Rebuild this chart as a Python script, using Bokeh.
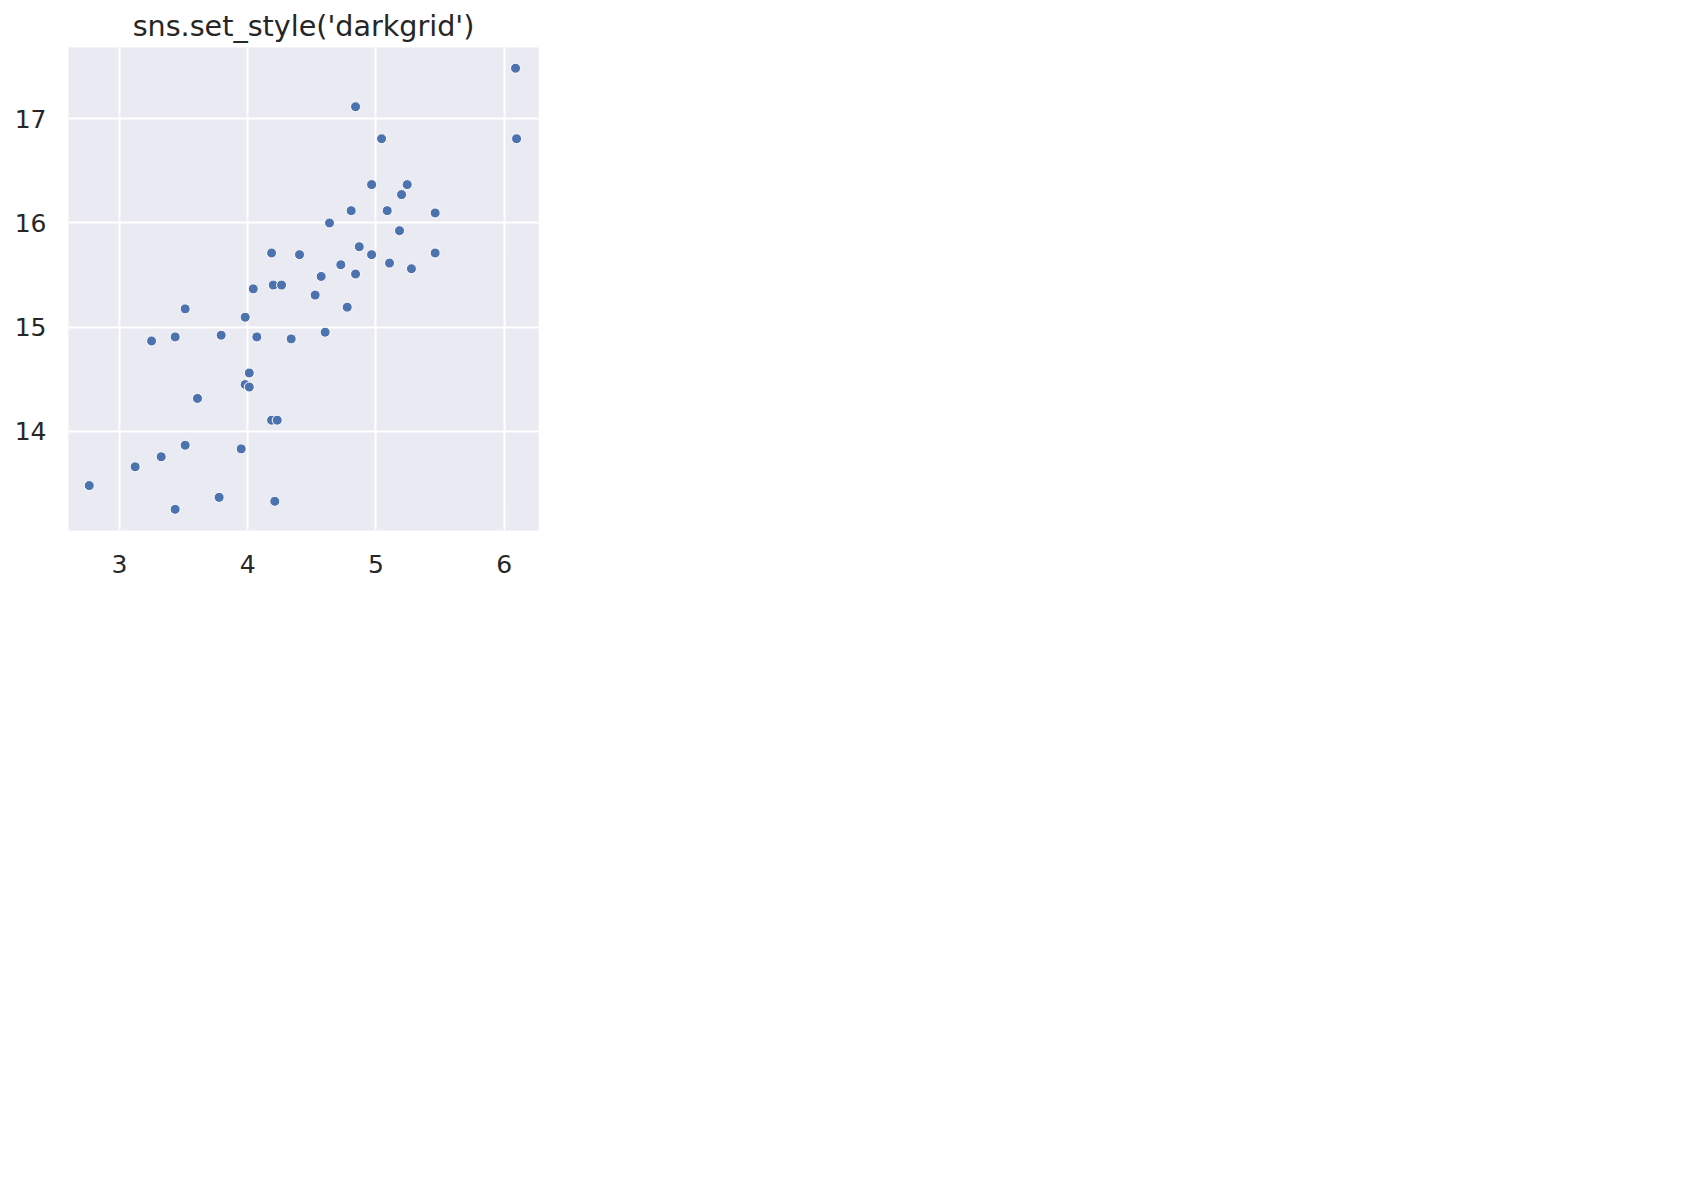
from bokeh.plotting import figure
from bokeh.models import FixedTicker, ColumnDataSource
from bokeh.embed import file_html
from bokeh.resources import INLINE

# Data
x_vals = [6.089, 4.841, 5.044, 6.097, 4.966, 5.244, 5.200, 4.807, 5.088, 5.462,
          4.638, 5.184, 4.186, 4.404, 4.870, 4.966, 5.462, 4.726, 5.106, 5.277,
          4.573, 4.841,
          4.043, 4.199, 4.264, 4.526, 4.776, 3.512, 3.980, 3.250, 3.434, 3.793,
          4.071, 4.339, 4.604, 4.012, 3.980, 4.012, 3.608, 4.186, 4.230, 3.512,
          3.949, 3.325, 3.122, 2.764, 3.777, 4.211, 3.434]
y_vals = [17.484, 17.115, 16.808, 16.808, 16.368, 16.368, 16.272, 16.118, 16.118, 16.096,
          16.000, 15.926, 15.712, 15.696, 15.772, 15.696, 15.712, 15.599, 15.615, 15.561,
          15.487, 15.510,
          15.368, 15.404, 15.404, 15.308, 15.192, 15.176, 15.096, 14.868, 14.907, 14.923,
          14.907, 14.888, 14.952, 14.561, 14.450, 14.426, 14.317, 14.108, 14.108, 13.868,
          13.833, 13.757, 13.661, 13.481, 13.368, 13.330, 13.253]
x_ticks = [3, 4, 5, 6]
y_ticks = [14, 15, 16, 17]
title_text = "sns.set_style('darkgrid')"

FONT = "DejaVu Sans"
TEXT = "#262626"

p = figure(frame_width=470, frame_height=483,
           x_range=(2.602, 6.268), y_range=(13.05, 17.683),
           output_backend="svg", toolbar_location=None,
           title=title_text, min_border_left=68, min_border_right=20,
           min_border_top=47, min_border_bottom=80)

p.title.align = "center"
p.title.text_font = FONT
p.title.text_font_size = "28.6px"
p.title.text_font_style = "normal"
p.title.text_color = TEXT

p.background_fill_color = "#EAEAF2"
p.border_fill_color = "white"
p.outline_line_color = None

for ax in (p.xaxis, p.yaxis):
    ax.axis_line_color = None
    ax.major_tick_line_color = None
    ax.minor_tick_line_color = None
    ax.major_label_text_font = FONT
    ax.major_label_text_font_size = "25px"
    ax.major_label_text_color = TEXT
    ax.major_tick_out = 0
    ax.major_tick_in = 0

p.xaxis.ticker = FixedTicker(ticks=x_ticks)
p.yaxis.ticker = FixedTicker(ticks=y_ticks)
p.xaxis.major_label_standoff = 24
p.yaxis.major_label_standoff = 22

p.xgrid.grid_line_color = "white"
p.ygrid.grid_line_color = "white"
p.xgrid.grid_line_width = 2
p.ygrid.grid_line_width = 2

src = ColumnDataSource(data=dict(x=x_vals, y=y_vals))
p.scatter("x", "y", source=src, size=10, fill_color="#4C72B0",
          line_color="white", line_width=1)

open("out.html", "w").write(file_html(p, INLINE))
